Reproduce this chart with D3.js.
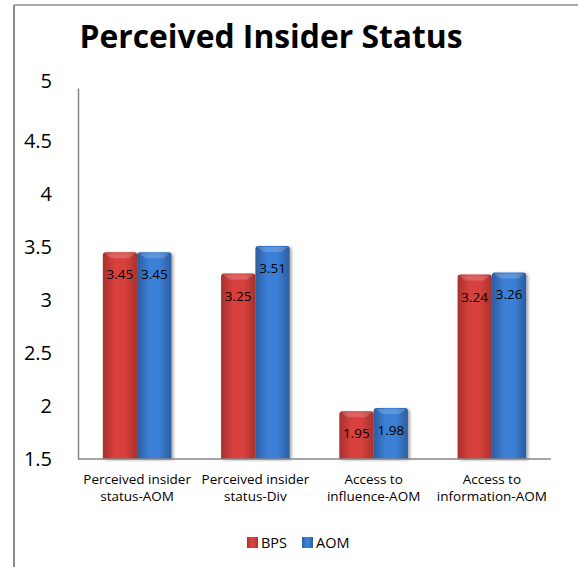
<!DOCTYPE html>
<html><head><meta charset="utf-8">
<script src="https://cdn.jsdelivr.net/npm/d3@7"></script>
<style>body{margin:0;background:#fff}svg{display:block;font-family:"Open Sans",sans-serif}</style>
</head><body><svg id="c" width="578" height="567"></svg>
<script>
const categories = [["Perceived insider","status-AOM"],["Perceived insider","status-Div"],["Access to","influence-AOM"],["Access to","information-AOM"]];
const seriesNames = ["BPS","AOM"];
const bps = [3.45, 3.25, 1.95, 3.24];
const aom = [3.45, 3.51, 1.98, 3.26];
const yTicks = [1.5, 2, 2.5, 3, 3.5, 4, 4.5, 5];

const svg = d3.select("#c");
const defs = svg.append("defs");
function grad(id, edge, mid){
  const g = defs.append("linearGradient").attr("id", id).attr("x1","0").attr("x2","1").attr("y1","0").attr("y2","0");
  g.append("stop").attr("offset","0").attr("stop-color", edge);
  g.append("stop").attr("offset","0.35").attr("stop-color", mid);
  g.append("stop").attr("offset","0.65").attr("stop-color", mid);
  g.append("stop").attr("offset","1").attr("stop-color", edge);
}
grad("gRed", "#a8302c", "#d8413d");
grad("gBlue", "#2c5d9f", "#3b7fd6");
const sh = defs.append("filter").attr("id","sh").attr("x","-20%").attr("y","-10%").attr("width","150%").attr("height","130%");
sh.append("feGaussianBlur").attr("in","SourceAlpha").attr("stdDeviation",1.5);
sh.append("feOffset").attr("dx",2).attr("dy",1).attr("result","b");
sh.append("feComponentTransfer").append("feFuncA").attr("type","linear").attr("slope",0.35);
const fm = sh.append("feMerge"); fm.append("feMergeNode"); fm.append("feMergeNode").attr("in","SourceGraphic");

// outer frame
svg.append("line").attr("x1",14).attr("x2",578).attr("y1",5).attr("y2",5).attr("stroke","#8c8c8c").attr("stroke-width",1.5);
svg.append("line").attr("x1",14).attr("x2",14).attr("y1",5).attr("y2",567).attr("stroke","#8c8c8c").attr("stroke-width",2);

svg.append("text").attr("x",271).attr("y",48).attr("text-anchor","middle").attr("font-size",33).attr("font-weight","bold")
  .attr("textLength",383).attr("lengthAdjust","spacingAndGlyphs").text("Perceived Insider Status");

const pLeft = 78, pRight = 551, pTop = 88, pBottom = 459;
const y = d3.scaleLinear().domain([1.5, 5]).range([pBottom, pTop]);
const x0 = d3.scaleBand().domain(d3.range(categories.length)).range([pLeft, pRight]).paddingInner(0.42).paddingOuter(0.21);
const x1 = d3.scaleBand().domain([0,1]).range([0, x0.bandwidth()]);

// y axis
const ya = svg.append("g").attr("transform",`translate(${pLeft},0)`)
  .call(d3.axisLeft(y).tickValues(yTicks).tickSize(0).tickPadding(26).tickFormat(d3.format("")));
ya.select(".domain").attr("stroke","#868686").attr("stroke-width",1.5);
ya.selectAll("text").attr("font-size",20).attr("fill","#000").attr("font-family","'Open Sans',sans-serif")
  .attr("dy", d => d === 5 ? "-0.05em" : "0.32em");

const data = [bps, aom];
const fills = ["url(#gRed)","url(#gBlue)"];
const g = svg.append("g");
categories.forEach((c,i)=>{
  [0,1].forEach(s=>{
    const v = data[s][i];
    const bx = x0(i) + x1(s), bw = x1.bandwidth();
    g.append("path")
      .attr("d", `M${bx},${pBottom} V${y(v)+3} Q${bx},${y(v)} ${bx+3},${y(v)} H${bx+bw-3} Q${bx+bw},${y(v)} ${bx+bw},${y(v)+3} V${pBottom} Z`)
      .attr("fill", fills[s]).attr("filter","url(#sh)");
    g.append("path").attr("d", `M${bx+2},${y(v)+1} H${bx+bw-2} L${bx+bw-8},${y(v)+6} H${bx+8} Z`)
      .attr("fill","#fff").attr("opacity",0.18);
    g.append("text").attr("x", bx+bw/2).attr("y", y(v)+27).attr("text-anchor","middle")
      .attr("font-size",13.5).attr("fill","#000").text(d3.format(".2f")(v));
  });
});

// x axis
svg.append("line").attr("x1",pLeft).attr("x2",pRight).attr("y1",pBottom).attr("y2",pBottom).attr("stroke","#868686").attr("stroke-width",1.5);
categories.forEach((c,i)=>{
  const cx = x0(i) + x0.bandwidth()/2;
  const t = svg.append("text").attr("x",cx).attr("text-anchor","middle").attr("font-size",13.5).attr("fill","#000");
  t.append("tspan").attr("x",cx).attr("y",484).text(c[0]);
  t.append("tspan").attr("x",cx).attr("y",501).text(c[1]);
});

// legend
const legendX = [247, 302];
seriesNames.forEach((n,i)=>{
  svg.append("rect").attr("x",legendX[i]).attr("y",537).attr("width",11).attr("height",11).attr("fill",fills[i]);
  svg.append("text").attr("x",legendX[i]+14).attr("y",548).attr("font-size",14.5).attr("fill","#000").text(n);
});
</script></body></html>
